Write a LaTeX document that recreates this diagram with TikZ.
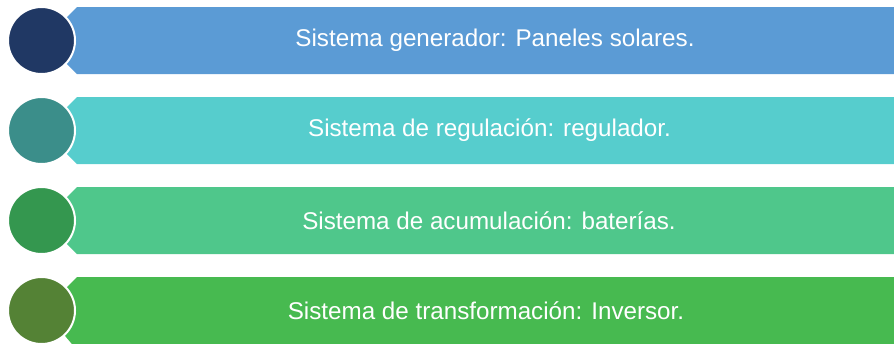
\documentclass[tikz,border=0pt]{standalone}
\usepackage{fontspec}
\setmainfont{Liberation Sans}

\definecolor{barA}{HTML}{5B9BD5}
\definecolor{dotA}{HTML}{203864}
\definecolor{barB}{HTML}{56CDCD}
\definecolor{dotB}{HTML}{3B8E8A}
\definecolor{barC}{HTML}{4FC78B}
\definecolor{dotC}{HTML}{34974F}
\definecolor{barD}{HTML}{47BA50}
\definecolor{dotD}{HTML}{548235}

\begin{document}
\begin{tikzpicture}[x=1pt, y=-1pt,
        dot/.style={circle, draw=white, line width=2pt, minimum size=67pt, inner sep=0pt},
        caption/.style={text=white, font=\fontsize{24.2}{29}\selectfont, inner sep=0pt}]
        \useasboundingbox (0,0) rectangle (894,343);

        % fila 1
        \fill[barA] (43.5,40.5) -- (77,7) -- (900,7) -- (900,74) -- (77,74) -- cycle;
        \node[dot, fill=dotA] (dotgen) at (41.5,40.5) {};
        \node[caption] (txtgen) at (495,40.5) {Sistema generador: Paneles solares.};

        % fila 2
        \fill[barB] (43.5,130.5) -- (77,97) -- (900,97) -- (900,164) -- (77,164) -- cycle;
        \node[dot, fill=dotB] (dotreg) at (41.5,130.5) {};
        \node[caption] (txtreg) at (489.5,130.5) {Sistema de regulación: regulador.};

        % fila 3
        \fill[barC] (43.5,220.5) -- (77,187) -- (900,187) -- (900,254) -- (77,254) -- cycle;
        \node[dot, fill=dotC] (dotacu) at (41.5,220.5) {};
        \node[caption] (txtacu) at (489,220.5) {Sistema de acumulación: baterías.};

        % fila 4
        \fill[barD] (43.5,310.5) -- (77,277) -- (900,277) -- (900,350) -- (77,350) -- cycle;
        \node[dot, fill=dotD] (dotinv) at (41.5,310.5) {};
        \node[caption] (txtinv) at (486,310.5) {Sistema de transformación: Inversor.};

    \end{tikzpicture}
\end{document}
